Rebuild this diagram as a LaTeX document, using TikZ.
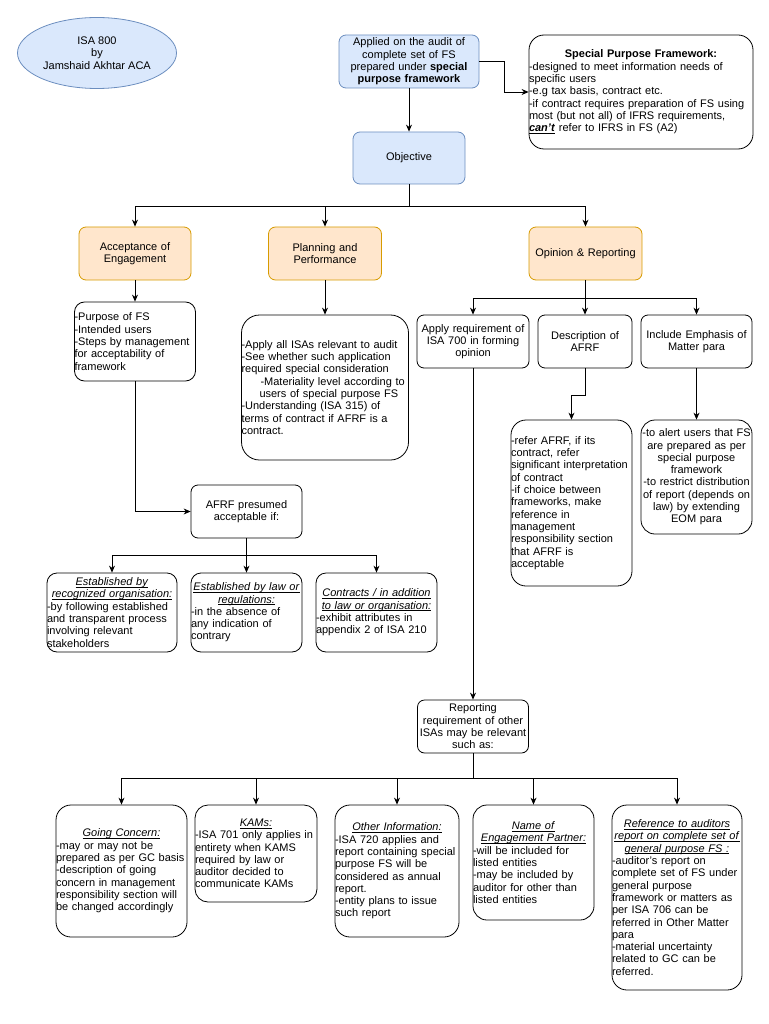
\documentclass[tikz,border=0pt]{standalone}
\usepackage{fontspec}
\setmainfont{Liberation Sans}
\usepackage{tikz}
\usetikzlibrary{shapes.geometric,arrows.meta}
\definecolor{blueF}{HTML}{DAE8FC}
\definecolor{blueD}{HTML}{6C8EBF}
\definecolor{orF}{HTML}{FFE6CC}
\definecolor{orD}{HTML}{D79B00}
\newcommand{\midrow}[1]{\leavevmode\hbox to\hsize{\hss#1\hss}}
\newcommand{\ulbox}[1]{\setbox0=\hbox{#1}\leavevmode\rlap{\vrule height -1.2pt depth 1.9pt width\wd0}\box0\relax}
\newcommand{\hd}[1]{\ulbox{\textit{#1}}}

\begin{document}
\begin{tikzpicture}[x=1pt,y=-1pt,font=\fontsize{11}{12.3}\selectfont]
\tikzset{box/.style={ %
		draw,
		line width=0.8pt,
		rounded corners=#1,
		inner xsep=0pt,
		inner ysep=1pt,
		align=center %
	},
	box/.default=7pt,
	bluebox/.style={box,draw=blueD,fill=blueF},
	orbox/.style={box,draw=orD,fill=orF},
	sz/.style 2 args={text width=#1pt,minimum height=#2pt},
	arr/.style={-{Stealth[length=7pt,width=6pt]},line width=0.8pt}
}
\useasboundingbox (0,0) rectangle (768,1024);

\node[ellipse,draw=blueD,fill=blueF,line width=0.8pt,minimum width=159pt,minimum height=71pt,inner sep=0pt,align=center] (isa) at (97,53) {ISA 800\\by\\Jamshaid Akhtar ACA};

\node[bluebox,sz={140}{53}] (app) at (409,61.5) {Applied on the audit of\\complete set of FS\\prepared under \textbf{special}\\\textbf{purpose framework}};
\node[box=15pt,sz={224}{114},align=left] (spf) at (641,92) {\midrow{\textbf{Special Purpose Framework:}}\\-designed to meet information needs of\\specific users\\-e.g tax basis, contract etc.\\-if contract requires preparation of FS using\\most (but not all) of IFRS requirements,\\\ulbox{\textbf{\textit{can't}}} refer to IFRS in FS (A2)};
\node[bluebox,sz={112}{52}] (obj) at (409,158) {Objective};

\node[orbox,sz={112}{53}] (acc) at (135,253.5) {Acceptance of\\Engagement};
\node[orbox,sz={113}{53}] (plan) at (325,253.5) {Planning and\\Performance};
\node[orbox,sz={113}{53}] (opr) at (585.5,253.5) {Opinion \& Reporting};

\node[box=10pt,sz={121}{79},align=left] (purp) at (135,341.5) {-Purpose of FS\\-Intended users\\-Steps by management\\for acceptability of\\framework};
\node[box=18pt,sz={167}{145},align=left] (perf) at (325,387.5) {-Apply all ISAs relevant to audit\\-See whether such application\\required special consideration\\\hspace*{19pt}-Materiality level according to\\\hspace*{18pt}users of special purpose FS\\-Understanding (ISA 315) of\\terms of contract if AFRF is a\\contract.};
\node[box,sz={111}{53}] (afrf) at (246.5,511.5) {AFRF presumed\\acceptable if:};

\node[box=10pt,sz={130}{79},align=left] (est1) at (112,612.5) {\midrow{\hd{Established by}}\\\midrow{\hd{recognized organisation:}}\\-by following established\\and transparent process\\involving relevant\\stakeholders};
\node[box=10pt,sz={111}{79},align=left] (est2) at (246.5,612.5) {\midrow{\hd{Established by law or}}\\\midrow{\hd{regulations:}}\\-in the absence of\\any indication of\\contrary};
\node[box=10pt,sz={121}{79},align=left] (est3) at (376.5,612.5) {\midrow{\hd{Contracts / in addition}}\\\midrow{\hd{to law or organisation:}}\\-exhibit attributes in\\appendix 2 of ISA 210};

\node[box,sz={112}{53}] (apr) at (473,341.5) {Apply requirement of\\ISA 700 in forming\\opinion};
\node[box,sz={94}{53}] (desc) at (585,341.5) {Description of\\AFRF};
\node[box,sz={111}{53}] (eom) at (696.5,341.5) {Include Emphasis of\\Matter para};

\node[box=15pt,sz={121}{166},align=left] (descd) at (571.5,503) {-refer AFRF, if its\\contract, refer\\significant interpretation\\of contract\\-if choice between\\frameworks, make\\reference in\\management\\responsibility section\\that AFRF is\\acceptable};
\node[box=14pt,sz={111}{114}] (eomd) at (696.5,477) {-to alert users that FS\\are prepared as per\\special purpose\\framework\\-to restrict distribution\\of report (depends on\\law) by extending\\EOM para};

\node[box,sz={111}{53}] (rep) at (473,726.5) {Reporting\\requirement of other\\ISAs may be relevant\\such as:};

\node[box=15pt,sz={131}{132},align=left] (gc) at (121.5,871) {\midrow{\hd{Going Concern:}}\\-may or may not be\\prepared as per GC basis\\-description of going\\concern in management\\responsibility section will\\be changed accordingly};
\node[box=13pt,sz={122}{97},align=left] (kam) at (256,853.5) {\midrow{\hd{KAMs:}}\\-ISA 701 only applies in\\entirety when KAMS\\required by law or\\auditor decided to\\communicate KAMs};
\node[box=15pt,sz={124}{132},align=left] (oinf) at (397,871) {\midrow{\hd{Other Information:}}\\-ISA 720 applies and\\report containing special\\purpose FS will be\\considered as annual\\report.\\-entity plans to issue\\such report};
\node[box=14pt,sz={121}{115},align=left] (eng) at (533.5,862.5) {\midrow{\hd{Name of}}\\\midrow{\hd{Engagement Partner:}}\\-will be included for\\listed entities\\-may be included by\\auditor for other than\\listed entities};
\node[box=15pt,sz={130}{185},align=left] (ref) at (677,897.5) {\midrow{\hd{Reference to auditors}}\\\midrow{\hd{report on complete set of}}\\\midrow{\hd{general purpose FS :}}\\-auditor's report on\\complete set of FS under\\general purpose\\framework or matters as\\per ISA 706 can be\\referred in Other Matter\\para\\-material uncertainty\\related to GC can be\\referred.};

\draw[arr] (app) -- (obj);
\draw[arr] (app.east) -- ++(25,0) |- (spf.west);
\draw[line width=0.8pt] (obj.south) -- ++(0,22) coordinate (objfork);
\draw[arr] (objfork) -| (acc);
\draw[arr] (objfork) -| (plan);
\draw[arr] (objfork) -| (opr);
\draw[arr] (acc) -- (purp);
\draw[arr] (plan) -- (perf);
\draw[arr] (purp) |- (afrf);
\draw[line width=0.8pt] (afrf.south) -- ++(0,17) coordinate (afrffork);
\draw[arr] (afrffork) -| (est1);
\draw[arr] (afrffork) -| (est2);
\draw[arr] (afrffork) -| (est3);
\draw[line width=0.8pt] (opr.south) -- ++(0,18) coordinate (oprfork);
\draw[arr] (oprfork) -| (apr);
\draw[arr] (oprfork) -| (desc);
\draw[arr] (oprfork) -| (eom);
\draw[arr] (desc.south) -- ++(0,27) -| (descd);
\draw[arr] (eom) -- (eomd);
\draw[arr] (apr) -- (rep);
\draw[line width=0.8pt] (rep.south) -- ++(0,25) coordinate (repfork);
\draw[arr] (repfork) -| (gc);
\draw[arr] (repfork) -| (kam);
\draw[arr] (repfork) -| (oinf);
\draw[arr] (repfork) -| (eng);
\draw[arr] (repfork) -| (ref);
\end{tikzpicture}
\end{document}
